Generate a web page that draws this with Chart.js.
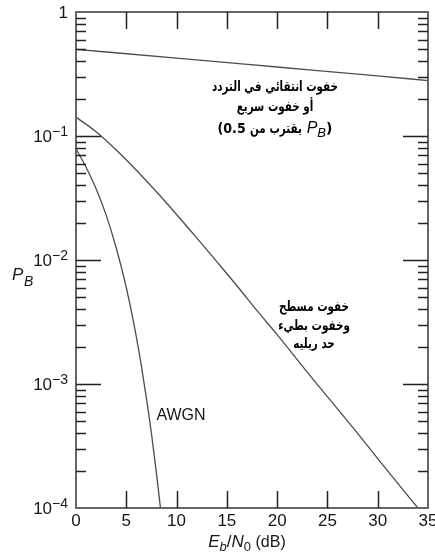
<!DOCTYPE html>
<html>
<head>
<meta charset="utf-8">
<script src="https://cdn.jsdelivr.net/npm/chart.js@4/dist/chart.umd.min.js"></script>
<style>
  html, body { margin: 0; padding: 0; background: #ffffff; }
  #wrap { width: 435px; height: 556px; position: relative; }
</style>
</head>
<body>
<div id="wrap"><canvas id="c"></canvas></div>
<script>
// Bit error probability versus Eb/N0 for three channel conditions
const xTickValues = [0, 5, 10, 15, 20, 25, 30, 35];
const yDecades = [1, 0.1, 0.01, 0.001, 0.0001];
const yTickBase = ['1', '10', '10', '10', '10'];
const yTickExp = ['', '−1', '−2', '−3', '−4'];

// frequency-selective / fast fading: error floor near 0.5
const snrFast = [0, 10, 20, 30, 35];
const pbFast = [0.5, 0.425, 0.36, 0.305, 0.28];

// flat, slow fading (Rayleigh limit)
const snrRayleigh = [0, 2, 4, 6, 8, 10, 12, 14, 16, 18, 20, 22, 24, 26, 28, 30, 32, 34];
const pbRayleigh = [0.142, 0.108, 0.077, 0.053, 0.0355, 0.0233, 0.0151, 0.0097, 0.0062, 0.0039,
                    0.0025, 0.00157, 0.00099, 0.00063, 0.0004, 0.00025, 0.000158, 0.0001];

// AWGN channel
const snrAwgn = [0, 1, 2, 3, 4, 5, 6, 6.5, 7, 7.5, 8, 8.4];
const pbAwgn = [0.079, 0.056, 0.0375, 0.023, 0.0125, 0.006, 0.0024, 0.0014, 0.00077, 0.0004, 0.00019, 0.0001];

const labelFast = ['خفوت انتقائي في التردد', 'أو خفوت سريع'];
const labelFastTail = 'يقترب من';
const labelFlat = ['خفوت مسطح', 'وخفوت بطيء', 'حد ريليه'];
const labelAwgn = 'AWGN';

function pts(xs, ys) { return xs.map((x, i) => ({ x: x, y: ys[i] })); }

const curveStyle = {
  borderColor: '#4d4d4d',
  borderWidth: 1.3,
  pointRadius: 0,
  fill: false,
  cubicInterpolationMode: 'monotone'
};

const ARFONT = 'bold 14px "DejaVu Sans", sans-serif';
const LAT = '"Liberation Sans", Arial, sans-serif';
const AR_SQUEEZE = 0.74;   // the Arabic face runs wide; condense it horizontally

// Arabic line, centred on cx and condensed by sx
function drawArabic(ctx, text, cx, base, sx) {
  ctx.save();
  ctx.font = ARFONT;
  ctx.direction = 'rtl';
  ctx.textAlign = 'center';
  ctx.translate(cx, base);
  ctx.scale(sx, 1);
  ctx.fillText(text, 0, 0);
  ctx.restore();
}

// draw a row of differently styled runs, left to right, centred on cx
function drawRuns(ctx, runs, cx, base) {
  let total = 0;
  runs.forEach(r => {
    ctx.font = r.font; ctx.direction = r.rtl ? 'rtl' : 'ltr';
    r.sx = r.sx || 1;
    r.w = ctx.measureText(r.t).width * r.sx;
    total += r.w;
  });
  let x = cx - total / 2;
  runs.forEach(r => {
    ctx.save();
    ctx.font = r.font;
    ctx.direction = r.rtl ? 'rtl' : 'ltr';
    ctx.textAlign = 'left';
    ctx.translate(x, base + (r.dy || 0));
    ctx.scale(r.sx, 1);
    if (r.rtl) { ctx.textAlign = 'right'; ctx.fillText(r.t, r.w / r.sx, 0); }
    else ctx.fillText(r.t, 0, 0);
    ctx.restore();
    x += r.w;
  });
}

const decorations = {
  id: 'decorations',
  afterDatasetsDraw(chart) {
    const ctx = chart.ctx;
    const xs = chart.scales.x, ys = chart.scales.y;
    const a = chart.chartArea;
    ctx.save();

    // frame
    ctx.strokeStyle = '#666666';
    ctx.lineWidth = 2;
    ctx.strokeRect(a.left, a.top, a.right - a.left, a.bottom - a.top);

    // y ticks (inward on both sides)
    ctx.strokeStyle = '#222222';
    ctx.lineWidth = 1.5;
    yDecades.forEach((d, i) => {
      const y = Math.round(ys.getPixelForValue(d)) + 0.5;
      if (i > 0 && i < yDecades.length - 1) {
        ctx.beginPath();
        ctx.moveTo(a.left, y); ctx.lineTo(a.left + 25, y);
        ctx.moveTo(a.right, y); ctx.lineTo(a.right - 25, y);
        ctx.stroke();
      }
      if (i < yDecades.length - 1) {
        for (let m = 2; m <= 9; m++) {
          const yy = Math.round(ys.getPixelForValue(d * m / 10)) + 0.5;
          ctx.beginPath();
          ctx.moveTo(a.left, yy); ctx.lineTo(a.left + 10, yy);
          ctx.moveTo(a.right, yy); ctx.lineTo(a.right - 10, yy);
          ctx.stroke();
        }
      }
    });

    // x ticks (inward, bottom and top)
    xTickValues.forEach(v => {
      if (v === 0 || v === 35) return;
      const x = Math.round(xs.getPixelForValue(v)) + 0.5;
      ctx.beginPath();
      ctx.moveTo(x, a.bottom); ctx.lineTo(x, a.bottom - 17);
      ctx.moveTo(x, a.top); ctx.lineTo(x, a.top + 17);
      ctx.stroke();
    });

    ctx.fillStyle = '#161616';
    // x tick labels
    ctx.font = '17px ' + LAT;
    ctx.textAlign = 'center';
    ctx.textBaseline = 'alphabetic';
    xTickValues.forEach(v => {
      ctx.fillText(String(v), xs.getPixelForValue(v), a.bottom + 18);
    });

    // y tick labels with superscript exponents
    yDecades.forEach((d, i) => {
      const y = ys.getPixelForValue(d);
      const right = a.left - 8;
      if (!yTickExp[i]) {
        ctx.font = '17px ' + LAT;
        ctx.textAlign = 'right';
        ctx.fillText(yTickBase[i], right, y + 6);
        return;
      }
      ctx.font = '14px ' + LAT;
      const ew = ctx.measureText(yTickExp[i]).width;
      ctx.textAlign = 'right';
      ctx.fillText(yTickExp[i], right, y);
      ctx.font = '17px ' + LAT;
      ctx.fillText(yTickBase[i], right - ew, y + 6);
    });

    // axis titles
    drawRuns(ctx, [
      { t: 'E', font: 'italic 17px ' + LAT },
      { t: 'b', font: 'italic 13px ' + LAT, dy: 4 },
      { t: '/', font: '17px ' + LAT },
      { t: 'N', font: 'italic 17px ' + LAT },
      { t: '0', font: '13px ' + LAT, dy: 4 },
      { t: ' (dB)', font: '16px ' + LAT }
    ], 247, 547);
    ctx.font = 'italic 17px ' + LAT;
    ctx.textAlign = 'left';
    ctx.direction = 'ltr';
    ctx.fillText('P', 12, 280);
    ctx.font = 'italic 14px ' + LAT;
    ctx.fillText('B', 24, 286);

    // curve annotations
    ctx.fillStyle = '#000000';
    drawArabic(ctx, labelFast[0], 275, 91, AR_SQUEEZE);
    drawArabic(ctx, labelFast[1], 275, 111, AR_SQUEEZE);
    drawRuns(ctx, [
      { t: '(0.5 ', font: ARFONT, sx: 0.9 },
      { t: labelFastTail, font: ARFONT, rtl: true, sx: AR_SQUEEZE },
      { t: ' ', font: ARFONT },
      { t: 'P', font: 'italic 16px ' + LAT },
      { t: 'B', font: 'italic 13px ' + LAT, dy: 4 },
      { t: ')', font: ARFONT }
    ], 275, 133);

    drawArabic(ctx, labelFlat[0], 314, 311, AR_SQUEEZE);
    drawArabic(ctx, labelFlat[1], 314, 330, AR_SQUEEZE);
    drawArabic(ctx, labelFlat[2], 314, 348, AR_SQUEEZE);

    ctx.font = '16px ' + LAT;
    ctx.fillStyle = '#161616';
    ctx.textAlign = 'center';
    ctx.direction = 'ltr';
    ctx.fillText(labelAwgn, 181, 420);

    ctx.restore();
  }
};

new Chart(document.getElementById('c'), {
  type: 'line',
  data: {
    datasets: [
      Object.assign({ label: 'fast', data: pts(snrFast, pbFast) }, curveStyle),
      Object.assign({ label: 'rayleigh', data: pts(snrRayleigh, pbRayleigh) }, curveStyle),
      Object.assign({ label: 'awgn', data: pts(snrAwgn, pbAwgn) }, curveStyle)
    ]
  },
  options: {
    responsive: true,
    maintainAspectRatio: false,
    animation: false,
    devicePixelRatio: 1,
    layout: { padding: { top: 12, right: 7, left: 0, bottom: 0 } },
    plugins: { legend: { display: false }, tooltip: { enabled: false } },
    scales: {
      x: {
        type: 'linear', min: 0, max: 35,
        grid: { display: false }, border: { display: false },
        ticks: { display: false },
        afterFit: s => { s.height = 48; }
      },
      y: {
        type: 'logarithmic', min: 0.0001, max: 1,
        grid: { display: false }, border: { display: false },
        ticks: { display: false },
        afterFit: s => { s.width = 76; }
      }
    }
  },
  plugins: [decorations]
});
</script>
</body>
</html>
